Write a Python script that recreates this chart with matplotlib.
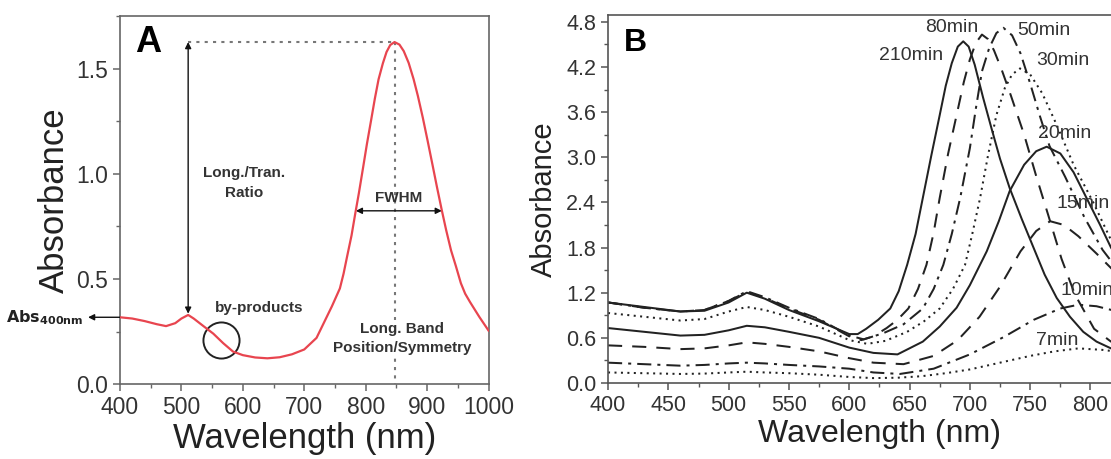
"""Two-panel absorbance figure: (A) annotated red spectrum, (B) time series of spectra."""
import matplotlib
matplotlib.use("Agg")
import matplotlib.pyplot as plt
from matplotlib.ticker import MultipleLocator

plt.rcParams["font.family"] = ["Liberation Sans", "DejaVu Sans"]

# ---- panel A: single spectrum ----
wl_a = [400, 420, 440, 460, 475, 490, 500, 511, 520, 535, 552, 568, 584, 600, 620,
        640, 660, 680, 700, 720, 745, 758, 764, 770, 777, 783, 789, 796, 802, 809,
        815, 821, 828, 834, 840, 847, 855, 862, 870, 878, 885, 893, 901, 909, 916,
        924, 931, 939, 947, 955, 962, 970, 985, 1000]
abs_a = [0.318, 0.312, 0.300, 0.285, 0.276, 0.290, 0.312, 0.329, 0.312, 0.278, 0.240,
         0.195, 0.155, 0.138, 0.127, 0.123, 0.128, 0.142, 0.165, 0.220, 0.370, 0.455,
         0.525, 0.610, 0.707, 0.810, 0.909, 1.033, 1.141, 1.257, 1.358, 1.449, 1.525,
         1.579, 1.612, 1.626, 1.614, 1.583, 1.527, 1.450, 1.370, 1.267, 1.155, 1.040,
         0.938, 0.826, 0.733, 0.636, 0.560, 0.480, 0.430, 0.390, 0.320, 0.255]
peak_wl, peak_abs = 847, 1.626
tran_wl, tran_abs = 511, 0.329
fwhm_lo, fwhm_hi, fwhm_y = 784, 924, 0.824
abs400 = 0.318
byprod_wl, byprod_abs = 564, 0.21

# ---- panel B: growth series ----
t210_wl = [400, 430, 460, 480, 500, 515, 530, 550, 575, 600, 607, 614, 624, 634, 641, 648,
           655, 661, 668, 675, 680, 685, 690, 694.5, 699, 704, 711, 718, 725, 733, 743,
           753, 762, 772, 783, 794, 805, 817, 835, 850]
t210_abs = [1.07, 1.01, 0.95, 0.96, 1.07, 1.20, 1.12, 0.97, 0.82, 0.65, 0.65, 0.72, 0.84,
            0.99, 1.22, 1.57, 1.98, 2.46, 3.02, 3.56, 3.95, 4.25, 4.47, 4.54, 4.47, 4.23,
            3.79, 3.38, 2.98, 2.59, 2.18, 1.79, 1.44, 1.13, 0.88, 0.68, 0.55, 0.46, 0.38,
            0.34]
t80_wl = [400, 430, 460, 480, 500, 515, 530, 550, 575, 600, 610, 620, 631, 640, 649, 657,
          664, 670, 675, 682, 689, 695, 700, 705, 710, 715, 720, 726, 734, 745, 755, 765,
          776, 787, 803, 817, 835, 850]
t80_abs = [1.07, 1.00, 0.95, 0.97, 1.09, 1.21, 1.13, 0.99, 0.84, 0.62, 0.57, 0.62, 0.73,
           0.84, 0.99, 1.25, 1.57, 2.00, 2.46, 3.05, 3.56, 4.00, 4.30, 4.52, 4.63, 4.57,
           4.42, 4.18, 3.82, 3.30, 2.75, 2.23, 1.65, 1.18, 0.72, 0.55, 0.45, 0.40]
t50_wl = [400, 430, 460, 480, 500, 515, 530, 550, 575, 600, 612, 628, 645, 661, 670, 678,
          685, 692, 700, 705, 710, 716, 722, 727.8, 735, 742, 750, 758, 766, 779, 795, 810,
          830, 850]
t50_abs = [1.07, 1.00, 0.95, 0.97, 1.09, 1.22, 1.14, 1.00, 0.85, 0.63, 0.58, 0.66, 0.78,
           0.99, 1.25, 1.57, 1.98, 2.46, 3.12, 3.65, 4.14, 4.45, 4.65, 4.72, 4.62, 4.38,
           3.98, 3.55, 3.15, 2.74, 2.20, 1.77, 1.35, 1.05]
t30_wl = [400, 430, 460, 480, 500, 515, 530, 550, 575, 600, 615, 630, 648, 662, 675, 686,
          696, 702, 708.5, 715, 722, 729, 735, 741.6, 750, 760, 772, 786, 802, 817, 835, 850]
t30_abs = [0.93, 0.88, 0.83, 0.85, 0.95, 1.01, 0.97, 0.88, 0.75, 0.57, 0.52, 0.56, 0.68,
           0.82, 0.99, 1.25, 1.57, 1.98, 2.46, 3.02, 3.56, 3.92, 4.10, 4.18, 4.10, 3.85,
           3.43, 2.90, 2.41, 1.90, 1.45, 1.15]
t20_wl = [400, 430, 460, 480, 500, 515, 530, 550, 575, 600, 620, 640, 661, 675, 689, 700,
          714, 724, 733, 745, 755, 763.7, 775, 786, 797, 808, 817, 835, 850]
t20_abs = [0.73, 0.68, 0.63, 0.64, 0.70, 0.76, 0.74, 0.68, 0.60, 0.47, 0.40, 0.38, 0.55,
           0.75, 1.00, 1.30, 1.75, 2.15, 2.55, 2.90, 3.08, 3.14, 3.05, 2.80, 2.45, 2.10,
           1.80, 1.35, 1.05]
t15_wl = [400, 430, 460, 480, 500, 515, 530, 550, 575, 600, 620, 645, 670, 690, 708, 725,
          742, 755, 766.5, 778, 790, 805, 820, 835, 850]
t15_abs = [0.50, 0.48, 0.45, 0.46, 0.50, 0.54, 0.52, 0.48, 0.42, 0.33, 0.27, 0.25, 0.36,
           0.57, 0.88, 1.28, 1.75, 2.02, 2.15, 2.10, 1.95, 1.72, 1.48, 1.25, 1.05]
t10_wl = [400, 430, 460, 480, 500, 515, 530, 550, 575, 600, 620, 642, 670, 700, 728, 753,
          775, 790, 805, 820, 835, 850]
t10_abs = [0.27, 0.25, 0.23, 0.24, 0.26, 0.27, 0.26, 0.24, 0.22, 0.19, 0.14, 0.12, 0.19,
           0.38, 0.61, 0.84, 0.99, 1.04, 1.02, 0.96, 0.88, 0.80]
t7_wl = [400, 430, 460, 480, 500, 515, 530, 550, 575, 600, 620, 640, 660, 680, 700, 725,
         750, 770, 790, 810, 830, 850]
t7_abs = [0.14, 0.13, 0.12, 0.125, 0.14, 0.15, 0.14, 0.13, 0.11, 0.08, 0.065, 0.07, 0.09,
          0.13, 0.18, 0.27, 0.36, 0.42, 0.46, 0.44, 0.40, 0.36]

labels_b = ["210min", "80min", "50min", "30min", "20min", "15min", "10min", "7min"]
label_x = [651.5, 685, 761, 777, 778.5, 772, 775, 772]
label_y = [4.35, 4.73, 4.68, 4.28, 3.32, 2.38, 1.23, 0.57]
label_ha = ["center", "center", "center", "center", "center", "left", "left", "center"]

SOLID = (0, ())
DASH = (0, (7, 5))
DASHDOT = (0, (7, 3, 1.5, 3))
DOT = (0, (1, 2.2))


def style_axes(ax, color):
    for sp in ax.spines.values():
        sp.set_color(color)
        sp.set_linewidth(1.2)
    ax.tick_params(which="both", direction="out", color=color, labelcolor="#333333")
    ax.tick_params(which="major", length=5, width=1.1)
    ax.tick_params(which="minor", length=3, width=1.0)


def main() -> None:
    fig = plt.figure(figsize=(11.11, 4.59), dpi=100)

    # ---------------- A ----------------
    ax = fig.add_axes([0.1080, 0.1630, 0.3317, 0.8022])
    ax.plot(wl_a, abs_a, color="#e8454f", lw=1.6, zorder=5)
    ax.set_xlim(400, 1000)
    ax.set_ylim(0, 1.75)
    ax.xaxis.set_major_locator(MultipleLocator(100))
    ax.xaxis.set_minor_locator(MultipleLocator(50))
    ax.yaxis.set_major_locator(MultipleLocator(0.5))
    ax.yaxis.set_minor_locator(MultipleLocator(0.25))
    style_axes(ax, "#666666")
    ax.tick_params(labelsize=16.5)
    ax.set_xlabel("Wavelength (nm)", fontsize=25, color="#222222", labelpad=2)
    ax.set_ylabel("Absorbance", fontsize=25, color="#222222", labelpad=4)

    # guide lines
    ax.plot([tran_wl, peak_wl], [peak_abs, peak_abs], color="#777777", lw=1.5,
            ls=(0, (1.5, 2.5)), zorder=1)
    ax.plot([peak_wl, peak_wl], [peak_abs, 0], color="#777777", lw=1.5,
            ls=(0, (1.5, 2.5)), zorder=1)
    arrow = dict(arrowstyle="<|-|>", color="#111111", lw=1.0, mutation_scale=9,
                 shrinkA=0, shrinkB=0)
    ax.annotate("", xy=(tran_wl, tran_abs + 0.006), xytext=(tran_wl, peak_abs),
                arrowprops=arrow)
    ax.annotate("", xy=(fwhm_lo, fwhm_y), xytext=(fwhm_hi, fwhm_y), arrowprops=arrow)
    ax.annotate("", xy=(348, abs400), xytext=(400, abs400), annotation_clip=False,
                arrowprops=dict(arrowstyle="-|>", color="#111111", lw=1.0,
                                mutation_scale=9, shrinkA=0, shrinkB=0))
    ax.text(341, abs400, r"$\mathbf{Abs}_{\mathbf{400nm}}$", ha="right", va="center",
            fontsize=11.5, color="#222222", clip_on=False)
    ax.plot([byprod_wl], [byprod_abs], "o", ms=26, mfc="none", mec="#222222", mew=1.4)

    bold = dict(fontsize=11, fontweight="bold", color="#333333", ha="center", va="center")
    ax.text(602, 0.955, "Long./Tran.\nRatio", linespacing=1.5, **bold)
    ax.text(853, 0.887, "FWHM", **bold)
    ax.text(627, 0.36, "by-products", **bold)
    ax.text(859.6, 0.217, "Long. Band\nPosition/Symmetry", linespacing=1.45, zorder=3,
            bbox=dict(fc="white", ec="none", pad=1.5), **bold)
    ax.text(0.04, 0.975, "A", transform=ax.transAxes, fontsize=26, fontweight="bold",
            ha="left", va="top", color="black")

    # ---------------- B ----------------
    bx = fig.add_axes([0.5473, 0.1656, 0.4885, 0.8017])
    series = [
        (t210_wl, t210_abs, SOLID), (t80_wl, t80_abs, DASH), (t50_wl, t50_abs, DASHDOT),
        (t30_wl, t30_abs, DOT), (t20_wl, t20_abs, SOLID), (t15_wl, t15_abs, DASH),
        (t10_wl, t10_abs, DASHDOT), (t7_wl, t7_abs, DOT),
    ]
    for wl, ab, ls in series:
        bx.plot(wl, ab, color="#222222", lw=1.45, ls=ls)
    for lab, x, y, ha in zip(labels_b, label_x, label_y, label_ha):
        bx.text(x, y, lab, fontsize=14, color="#333333", ha=ha, va="center")
    bx.set_xlim(400, 850)
    bx.set_ylim(0, 4.89)
    bx.xaxis.set_major_locator(MultipleLocator(50))
    bx.xaxis.set_minor_locator(MultipleLocator(25))
    bx.yaxis.set_major_locator(MultipleLocator(0.6))
    bx.yaxis.set_minor_locator(MultipleLocator(0.3))
    style_axes(bx, "#555555")
    bx.tick_params(labelsize=15.5)
    bx.set_xlabel("Wavelength (nm)", fontsize=23, color="#222222", labelpad=2)
    bx.set_ylabel("Absorbance", fontsize=21, color="#222222", labelpad=6)
    bx.text(0.03, 0.965, "B", transform=bx.transAxes, fontsize=23, fontweight="bold",
            ha="left", va="top", color="black")

    fig.savefig("out.png", dpi=100)


if __name__ == "__main__":
    main()
